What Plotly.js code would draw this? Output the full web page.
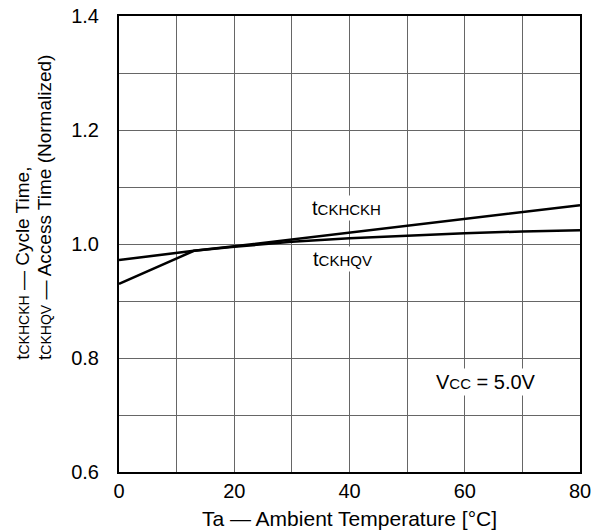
<!DOCTYPE html>
<html>
<head>
<meta charset="utf-8">
<script src="https://cdn.plot.ly/plotly-3.0.1.min.js"></script>
<style>html,body{margin:0;padding:0;background:#fff;}#chart{width:592px;height:531px;}</style>
</head>
<body>
<div id="chart"></div>
<script>
// Data
const temperature = [0, 13, 20, 30, 40, 50, 60, 70, 80];
const cycleTime   = [0.930, 0.988, 0.996, 1.008, 1.020, 1.032, 1.044, 1.056, 1.068]; // tCKHCKH
const accessTime  = [0.972, 0.988, 0.995, 1.004, 1.010, 1.015, 1.019, 1.022, 1.024]; // tCKHQV
const xTicks = [0, 20, 40, 60, 80];
const yTicks = [0.6, 0.8, 1.0, 1.2, 1.4];
const yTickLabels = ['0.6', '0.8', '1.0', '1.2', '1.4'];

const FONT = 'Liberation Sans, Arial, Helvetica, sans-serif';
const sub = (s, px) => "<span style='font-size:" + px + "px'>" + s + "</span>";

const traces = [
  {x: temperature, y: cycleTime, mode: 'lines', line: {color: '#000', width: 2.5}, name: 'tCKHCKH', hoverinfo: 'skip'},
  {x: temperature, y: accessTime, mode: 'lines', line: {color: '#000', width: 2.5}, name: 'tCKHQV', hoverinfo: 'skip'}
];

const layout = {
  width: 592, height: 531,
  margin: {l: 119, r: 12, t: 16, b: 59},
  paper_bgcolor: '#fff', plot_bgcolor: '#fff',
  showlegend: false,
  font: {family: FONT, size: 20, color: '#000'},
  xaxis: {
    range: [0, 80], tickvals: xTicks, ticks: '', showgrid: true, gridcolor: '#666', gridwidth: 1,
    minor: {dtick: 10, showgrid: true, gridcolor: '#666', gridwidth: 1, ticks: ''},
    zeroline: false, showline: true, linecolor: '#000', linewidth: 2, mirror: true,
    tickfont: {size: 20}, title: {text: 'Ta — Ambient Temperature [°C]', font: {size: 21}, standoff: 10}
  },
  yaxis: {
    range: [0.6, 1.4], tickvals: yTicks, ticktext: yTickLabels, ticks: '', showgrid: true, gridcolor: '#666', gridwidth: 1,
    minor: {dtick: 0.1, showgrid: true, gridcolor: '#666', gridwidth: 1, ticks: ''},
    zeroline: false, showline: true, linecolor: '#000', linewidth: 2, mirror: true,
    tickfont: {size: 20}, ticklabelstandoff: 14
  },
  annotations: [
    {xref: 'x', yref: 'y', x: 39.4, y: 1.063, text: 't' + sub('CKHCKH', 15), showarrow: false,
     font: {size: 20}, bgcolor: '#fff', borderpad: 1},
    {xref: 'x', yref: 'y', x: 38.7, y: 0.974, text: 't' + sub('CKHQV', 15), showarrow: false,
     font: {size: 20}, bgcolor: '#fff', borderpad: 1},
    {xref: 'x', yref: 'y', x: 63.7, y: 0.758, text: 'V' + sub('CC', 15) + ' = 5.0V', showarrow: false,
     font: {size: 20}, bgcolor: '#fff', borderpad: 2},
    {xref: 'paper', yref: 'paper', x: -0.21, y: 0.241, xanchor: 'center', yanchor: 'bottom',
     text: 't' + sub('CKHCKH', 14) + ' — Cycle Time,', textangle: -90, showarrow: false, font: {size: 19}},
    {xref: 'paper', yref: 'paper', x: -0.162, y: 0.241, xanchor: 'center', yanchor: 'bottom',
     text: 't' + sub('CKHQV', 14) + ' — Access Time (Normalized)', textangle: -90, showarrow: false, font: {size: 19}}
  ]
};

Plotly.newPlot('chart', traces, layout, {staticPlot: true, displayModeBar: false});
</script>
</body>
</html>
